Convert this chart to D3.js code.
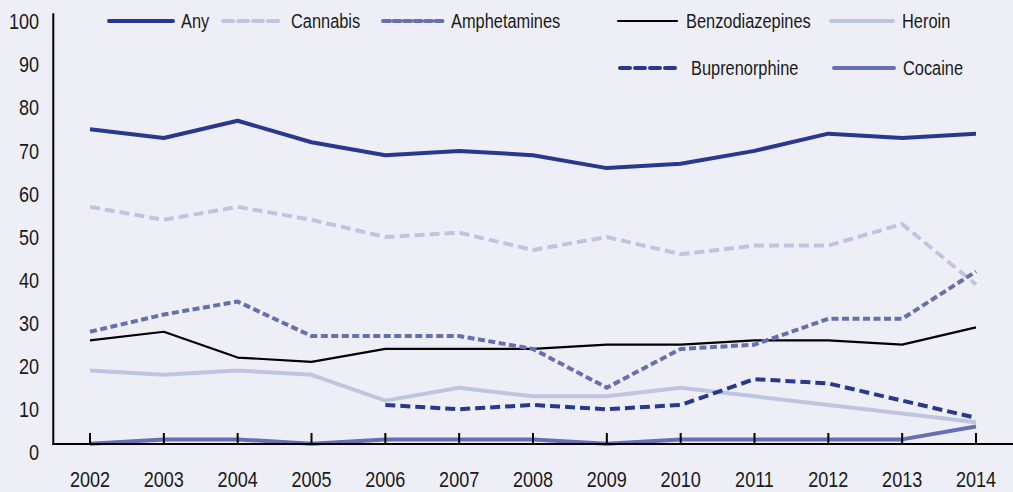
<!DOCTYPE html>
<html>
<head>
<meta charset="utf-8">
<script src="https://cdn.jsdelivr.net/npm/d3@7/dist/d3.min.js"></script>
<style>
  html, body { margin: 0; padding: 0; background: #eeeff6; }
  svg { display: block; }
  text { font-family: "Liberation Sans", Arial, sans-serif; fill: #1a1a1a; }
</style>
</head>
<body>
<svg id="chart" width="1013" height="492"></svg>
<script>
const years = [2002, 2003, 2004, 2005, 2006, 2007, 2008, 2009, 2010, 2011, 2012, 2013, 2014];
const yTicks = [0, 10, 20, 30, 40, 50, 60, 70, 80, 90, 100];

const anyValues            = [75, 73, 77, 72, 69, 70, 69, 66, 67, 70, 74, 73, 74];
const cannabisValues       = [57, 54, 57, 54, 50, 51, 47, 50, 46, 48, 48, 53, 39];
const amphetaminesValues   = [28, 32, 35, 27, 27, 27, 24, 15, 24, 25, 31, 31, 42];
const benzodiazepineValues = [26, 28, 22, 21, 24, 24, 24, 25, 25, 26, 26, 25, 29];
const heroinValues         = [19, 18, 19, 18, 12, 15, 13, 13, 15, 13, 11, 9, 7];
const buprenorphineValues  = [null, null, null, null, 11, 10, 11, 10, 11, 17, 16, 12, 8];
const cocaineValues        = [2, 3, 3, 2, 3, 3, 3, 2, 3, 3, 3, 3, 6];

const seriesNames = ["Any", "Cannabis", "Amphetamines", "Benzodiazepines", "Heroin", "Buprenorphine", "Cocaine"];

const styles = {
  "Any":             { color: "#28388f", width: 4,   dash: null },
  "Cannabis":        { color: "#bfc5e0", width: 4,   dash: "10,5" },
  "Amphetamines":    { color: "#6670b1", width: 4,   dash: "7,3.5" },
  "Benzodiazepines": { color: "#000000", width: 2.2, dash: null },
  "Heroin":          { color: "#bfc5e0", width: 4,   dash: null },
  "Buprenorphine":   { color: "#28388f", width: 4,   dash: "10,5" },
  "Cocaine":         { color: "#6670b1", width: 4,   dash: null }
};

const seriesValues = {
  "Any": anyValues,
  "Cannabis": cannabisValues,
  "Amphetamines": amphetaminesValues,
  "Benzodiazepines": benzodiazepineValues,
  "Heroin": heroinValues,
  "Buprenorphine": buprenorphineValues,
  "Cocaine": cocaineValues
};

const svg = d3.select("#chart");

const x = d3.scaleLinear().domain([2002, 2014]).range([90, 976]);
const y = d3.scaleLinear().domain([0, 100]).range([452.3, 21.7]);

const frameBottom = y(0) - 8.3;
const frameTop = y(100) - 8.4;
const frameLeft = 53.3;

const axisScaleX = 0.82, axisFont = 22;
const legScaleX = 0.78, legFont = 21;

// y tick labels
svg.append("g").selectAll("text").data(yTicks).join("text")
  .attr("transform", d => `translate(39,${y(d)}) scale(${axisScaleX},1)`)
  .attr("text-anchor", "end")
  .attr("dominant-baseline", "central")
  .attr("font-size", axisFont)
  .text(d => d);

// x tick labels
svg.append("g").selectAll("text").data(years).join("text")
  .attr("transform", d => `translate(${x(d)},479) scale(${axisScaleX},1)`)
  .attr("text-anchor", "middle")
  .attr("dominant-baseline", "central")
  .attr("font-size", axisFont)
  .text(d => d);

const drawOrder = ["Cannabis", "Heroin", "Benzodiazepines", "Amphetamines", "Buprenorphine", "Any", "Cocaine"];
const line = d3.line()
  .defined(d => d.v !== null)
  .x(d => x(d.year))
  .y(d => y(d.v));

const linesG = svg.append("g");
drawOrder.forEach(name => {
  const st = styles[name];
  const data = years.map((yr, i) => ({ year: yr, v: seriesValues[name][i] }));
  linesG.append("path")
    .datum(data)
    .attr("d", line)
    .attr("fill", "none")
    .attr("stroke", st.color)
    .attr("stroke-width", st.width)
    .attr("stroke-linejoin", "round")
    .attr("stroke-dasharray", st.dash);
});

// axes frame
const axisG = svg.append("g");
axisG.append("line")
  .attr("x1", frameLeft).attr("x2", frameLeft)
  .attr("y1", frameTop).attr("y2", frameBottom + 1)
  .attr("stroke", "#000").attr("stroke-width", 2);
axisG.append("line")
  .attr("x1", frameLeft - 1).attr("x2", 1013)
  .attr("y1", frameBottom).attr("y2", frameBottom)
  .attr("stroke", "#000").attr("stroke-width", 2);
axisG.selectAll("line.tick").data(years).join("line")
  .attr("class", "tick")
  .attr("x1", d => x(d)).attr("x2", d => x(d))
  .attr("y1", frameBottom).attr("y2", frameBottom - 11)
  .attr("stroke", "#000").attr("stroke-width", 2);

// legend
const legendItems = [
  { name: "Any",             x1: 109, x2: 173, tx: 181, y: 21 },
  { name: "Cannabis",        x1: 223, x2: 282, tx: 291, y: 21 },
  { name: "Amphetamines",    x1: 383, x2: 445, tx: 451, y: 21 },
  { name: "Benzodiazepines", x1: 618, x2: 677, tx: 686, y: 21 },
  { name: "Heroin",          x1: 831, x2: 893, tx: 902, y: 21 },
  { name: "Buprenorphine",   x1: 620, x2: 677, tx: 691, y: 68 },
  { name: "Cocaine",         x1: 834, x2: 894, tx: 903, y: 68 }
];
const legG = svg.append("g");
legendItems.forEach(it => {
  const st = styles[it.name];
  legG.append("line")
    .attr("x1", it.x1).attr("x2", it.x2)
    .attr("y1", it.y).attr("y2", it.y)
    .attr("stroke", st.color)
    .attr("stroke-width", st.width)
    .attr("stroke-linecap", "round")
    .attr("stroke-dasharray", st.dash);
  legG.append("text")
    .attr("transform", `translate(${it.tx},${it.y}) scale(${legScaleX},1)`)
    .attr("dominant-baseline", "central")
    .attr("font-size", legFont)
    .text(it.name);
});
</script>
</body>
</html>
